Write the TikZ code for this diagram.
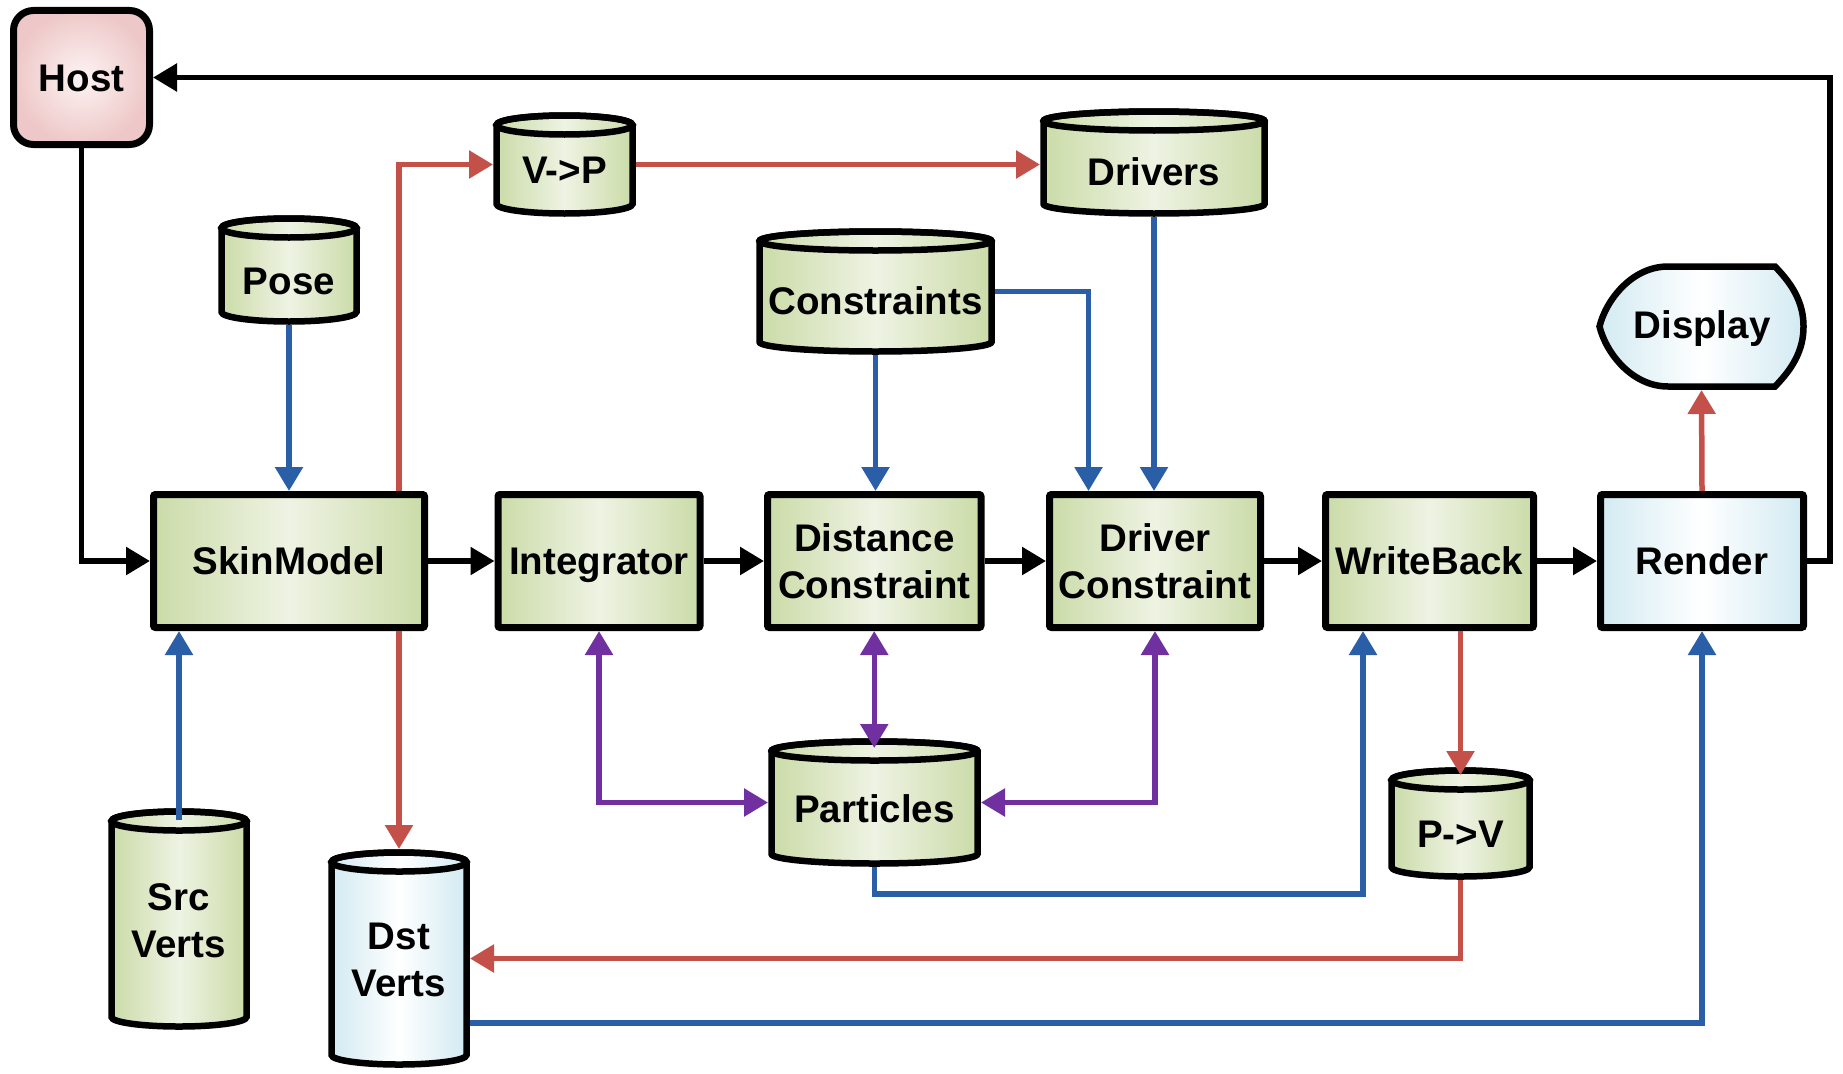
\documentclass[tikz,border=0pt]{standalone}
\usepackage{fontspec}
\setmainfont{Liberation Sans}
\usetikzlibrary{arrows.meta,calc}
\definecolor{gE}{HTML}{CBDBA8}
\definecolor{gM}{HTML}{EEF3E3}
\definecolor{bE}{HTML}{D2EAF2}
\definecolor{bM}{HTML}{FFFFFF}
\definecolor{pE}{HTML}{EEC8C8}
\definecolor{pM}{HTML}{FDF3F3}
\definecolor{lnblue}{HTML}{2A5FA8}
\definecolor{lnred}{HTML}{C4504A}
\definecolor{lnpurple}{HTML}{7030A0}
\tikzset{
  lbl/.style={font=\bfseries\fontsize{38.5}{47}\selectfont, inner sep=0pt},
  onel/.style={text height=27pt, text depth=0pt},
  twol/.style={align=center},
  greenfill/.style={left color=gE,right color=gE,middle color=gM},
  bluefill/.style={left color=bE,right color=bE,middle color=bM},
  procbox/.style={draw, line width=7pt, rounded corners=2pt, minimum height=133pt, lbl},
  cylshape/.style={draw, line width=6.5pt},
  hidden/.style={inner sep=0pt, outer sep=0pt},
  tip/.tip={Triangle[length=24pt,width=27pt]},
  conn/.style={line width=5.5pt, -tip},
  bconn/.style={line width=5.5pt, tip-tip},
  blk/.style={conn, black},
  blu/.style={conn, lnblue},
  rd/.style={conn, lnred},
  pur/.style={bconn, lnpurple},
}
\newcommand\mkcyl[8]{%
  \pgfmathsetmacro\cx{(#2+#4)/2}%
  \pgfmathsetmacro\rx{(#4-#2)/2-3.5}%
  \pgfmathsetmacro\ya{#3+13}%
  \pgfmathsetmacro\yb{#5-13}%
  \shadedraw[cylshape,#6] (#2+3.5,\ya) -- (#2+3.5,\yb) arc[start angle=180,end angle=0,x radius=\rx,y radius=9.5] -- (#4-3.5,\ya) arc[start angle=0,end angle=-180,x radius=\rx,y radius=9.5] -- cycle;
  \draw[cylshape] (\cx,\ya) ellipse[x radius=\rx,y radius=9.5];
  \node[hidden, minimum width={#4-#2}, minimum height={#5-#3}] (#1) at (\cx,{(#3+#5)/2}) {};
  \node[lbl] (#1-t) at (\cx,#7) {#8};
}
\begin{document}
\begin{tikzpicture}[x=1pt,y=-1pt]
\fill[white] (0,0) rectangle (1843,1073);
\useasboundingbox (0,0) rectangle (1843,1073);

% Host
\node[draw, line width=7pt, rounded corners=20pt, inner color=pM, outer color=pE,
      minimum width=136pt, minimum height=134pt, lbl, onel] (host) at (81.5,77.5) {Host};

% main row
\node[procbox, greenfill, onel, minimum width=271pt] (skin) at (289,561) {SkinModel};
\node[procbox, greenfill, onel, minimum width=202pt] (integ) at (599,561) {Integrator};
\node[procbox, greenfill, twol, minimum width=213.5pt] (dist) at (874.25,561) {Distance\\Constraint};
\node[procbox, greenfill, twol, minimum width=211pt] (drv) at (1155,561) {Driver\\Constraint};
\node[procbox, greenfill, onel, minimum width=208pt] (wb) at (1429.5,561) {WriteBack};
\node[procbox, bluefill, onel, minimum width=203pt] (render) at (1702,561) {Render};

% cylinders
\mkcyl{pose}{218}{215}{360}{325}{greenfill}{281}{\rule{0pt}{27pt}Pose}
\mkcyl{vp}{493}{112}{636}{217}{greenfill}{170}{\rule{0pt}{27pt}V->P}
\mkcyl{drivers}{1040}{108}{1268}{217}{greenfill}{172}{\rule{0pt}{27pt}Drivers}
\mkcyl{cons}{756}{228}{995}{355}{greenfill}{301}{\rule{0pt}{27pt}Constraints}
\mkcyl{part}{768}{738}{981}{867}{greenfill}{809}{\rule{0pt}{27pt}Particles}
\mkcyl{pv}{1388}{767}{1533}{880}{greenfill}{834}{\rule{0pt}{27pt}P->V}
\mkcyl{src}{108}{808}{250}{1030}{greenfill}{925}{\begin{tabular}{@{}c@{}}Src\\Verts\end{tabular}}
\mkcyl{dst}{328}{849}{470}{1068}{bluefill}{964}{\begin{tabular}{@{}c@{}}Dst\\Verts\end{tabular}}

% Display
\shadedraw[bluefill, line width=6.5pt] (1775,266.5) -- (1668,266.5)
  .. controls (1632,266.5) and (1606,300) .. (1599.5,326.5)
  .. controls (1606,353) and (1632,386.5) .. (1668,386.5) -- (1775,386.5)
  .. controls (1793,368) and (1803.5,350) .. (1803.5,326.5)
  .. controls (1803.5,303) and (1793,285) .. (1775,266.5) -- cycle;
\node[hidden, minimum width=211pt, minimum height=127pt] (disp) at (1701.5,326.5) {};
\node[lbl, onel] (disp-t) at (1702,325) {Display};

% black connectors
\draw[blk] (host.south) |- (skin.west);
\draw[blk] (skin.east) -- (integ.west);
\draw[blk] (integ.east) -- (dist.west);
\draw[blk] (dist.east) -- (drv.west);
\draw[blk] (drv.east) -- (wb.west);
\draw[blk] (wb.east) -- (render.west);
\coordinate (rt) at ([xshift=23pt]render.east);
\draw[blk] (render.east) -- (rt) |- (host.east);

% blue
\draw[blu] (pose.south) -- (pose.south |- skin.north);
\draw[blu] ([yshift=-12pt]src.north) -- (src.north |- skin.south);
\draw[blu] (cons.south) -- (cons.south |- dist.north);
\draw[blu] (cons.east) -| ([xshift=-66.5pt]drv.north);
\draw[blu] (drivers.south) -- (drivers.south |- drv.north);
\coordinate (pb) at ([yshift=-27pt]part.south);
\draw[blu] (part.south) -- (pb) -| ([xshift=-66.5pt]wb.south);
\coordinate (db) at ([yshift=-64.5pt]dst.east);
\draw[blu] (db) -| (render.south);

% red
\draw[rd] ([xshift=110pt]skin.north) |- (vp.west);
\draw[rd] (vp.east) -- (vp.east -| drivers.west);
\draw[rd] ([xshift=110pt]skin.south) -- (dst.north);
\draw[rd] ([xshift=31pt]wb.south) -- ([xshift=31pt,yshift=-8pt]wb.south |- pv.north);
\draw[rd] (pv.south) |- (dst.east);
\draw[rd] (render.north) -- (disp.south);

% purple
\draw[pur] (integ.south) |- (part.west);
\draw[pur] (dist.south) -- ([yshift=-10pt]dist.south |- part.north);
\draw[pur] (drv.south) |- (part.east);
\end{tikzpicture}
\end{document}
